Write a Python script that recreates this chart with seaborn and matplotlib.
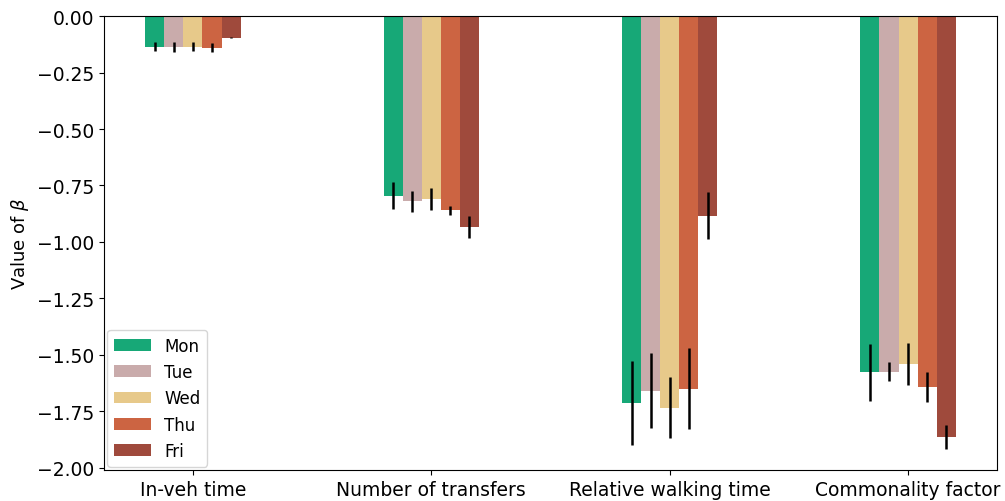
import numpy as np
import pandas as pd
import matplotlib
matplotlib.use("Agg")
import matplotlib.pyplot as plt
import seaborn as sns

# Estimated coefficients and their uncertainty, per weekday
features = ["In-veh time", "Number of transfers", "Relative walking time", "Commonality factor"]
days = ["Mon", "Tue", "Wed", "Thu", "Fri"]

beta_mon = [-0.135, -0.795, -1.712, -1.577]
beta_tue = [-0.135, -0.820, -1.658, -1.574]
beta_wed = [-0.135, -0.810, -1.735, -1.541]
beta_thu = [-0.140, -0.860, -1.650, -1.643]
beta_fri = [-0.095, -0.934, -0.884, -1.864]

err_mon = [0.021, 0.059, 0.186, 0.127]
err_tue = [0.022, 0.046, 0.166, 0.041]
err_wed = [0.019, 0.050, 0.135, 0.092]
err_thu = [0.020, 0.020, 0.180, 0.066]
err_fri = [0.004, 0.047, 0.105, 0.052]

day_colors = ["#17a877", "#c9abab", "#e7c98a", "#cc6442", "#9f4a3c"]

betas = [beta_mon, beta_tue, beta_wed, beta_thu, beta_fri]
errs = [err_mon, err_tue, err_wed, err_thu, err_fri]

df = pd.DataFrame({
    "feature": [f for _ in days for f in features],
    "day": [d for d in days for _ in features],
    "beta": [v for b in betas for v in b],
})

plt.rcParams["font.size"] = 13.5
fig = plt.figure(figsize=(10.05, 5.02), dpi=100)
ax = fig.add_axes([0.1035, 0.062, 0.8885, 0.904])

sns.barplot(data=df, x="feature", y="beta", hue="day", order=features,
            hue_order=days, palette=day_colors, width=0.4, gap=0,
            errorbar=None, saturation=1, ax=ax)

# Error bars at the centre of each bar
for cont, e in zip(ax.containers, errs):
    xs = [p.get_x() + p.get_width() / 2 for p in cont]
    ys = [p.get_y() + p.get_height() for p in cont]
    ax.errorbar(xs, ys, yerr=e, fmt="none", ecolor="black", elinewidth=1.8, capsize=0)

ax.set_xlim(-0.373, 3.373)
ax.set_ylim(-2.009, 0)
ax.set_yticks(np.arange(-2.0, 0.01, 0.25))
ax.set_xlabel("")
ax.set_ylabel(r"Value of $\beta$", fontsize=13)
ax.legend(loc="lower left", title=None, fontsize=12, borderaxespad=0.2,
          handlelength=2.2)

fig.savefig("out.png", dpi=100)
